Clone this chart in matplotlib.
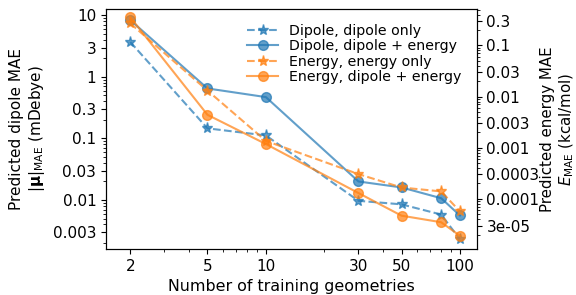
import matplotlib
matplotlib.use("Agg")
import matplotlib.pyplot as plt
from matplotlib.ticker import FixedLocator, FuncFormatter, NullFormatter, LogLocator

n_train = [2, 5, 10, 30, 50, 80, 100]

dipole_dipole_only = [3.7, 0.146, 0.112, 0.0097, 0.0085, 0.0058, 0.0023]
dipole_dipole_energy = [8.4, 0.65, 0.47, 0.020, 0.016, 0.0107, 0.0056]
energy_energy_only = [0.27, 0.0131, 0.00136, 0.000305, 0.000167, 0.00014, 5.7e-5]
energy_dipole_energy = [0.356, 0.0044, 0.00118, 0.00013, 4.7e-5, 3.5e-5, 1.9e-5]

xticks = [2, 5, 10, 30, 50, 100]
left_ticks = [10, 3, 1, 0.3, 0.1, 0.03, 0.01, 0.003]
right_ticks = [0.3, 0.1, 0.03, 0.01, 0.003, 0.001, 0.0003, 0.0001, 3e-5]

blue = "tab:blue"
orange = "tab:orange"
alpha = 0.7

fig = plt.figure(figsize=(5.76, 2.95), dpi=100)
ax = fig.add_axes([0.184, 0.156, 0.6436, 0.8135])
ax2 = ax.twinx()

l1, = ax.plot(n_train, dipole_dipole_only, ls="--", marker="*", ms=8, color=blue,
              alpha=alpha, label="Dipole, dipole only")
l2, = ax.plot(n_train, dipole_dipole_energy, ls="-", marker="o", ms=7, color=blue,
              alpha=alpha, label="Dipole, dipole + energy")
l3, = ax2.plot(n_train, energy_energy_only, ls="--", marker="*", ms=8, color=orange,
               alpha=alpha, label="Energy, energy only")
l4, = ax2.plot(n_train, energy_dipole_energy, ls="-", marker="o", ms=7, color=orange,
               alpha=alpha, label="Energy, dipole + energy")

ax.set_xscale("log")
ax.set_yscale("log")
ax2.set_yscale("log")
ax.set_xlim(1.5, 122)
ax.set_ylim(0.0016, 12.7)
ax2.set_ylim(1.05e-5, 0.514)

fmt = FuncFormatter(lambda v, p: "%g" % v)
ax.xaxis.set_major_locator(FixedLocator(xticks))
ax.xaxis.set_major_formatter(fmt)
ax.xaxis.set_minor_formatter(NullFormatter())
ax.yaxis.set_major_locator(FixedLocator(left_ticks))
ax.yaxis.set_major_formatter(fmt)
ax.yaxis.set_minor_locator(LogLocator(base=10, subs=range(2, 10), numticks=20))
ax.yaxis.set_minor_formatter(NullFormatter())
ax2.yaxis.set_major_locator(FixedLocator(right_ticks))
ax2.yaxis.set_major_formatter(fmt)
ax2.yaxis.set_minor_locator(LogLocator(base=10, subs=range(2, 10), numticks=20))
ax2.yaxis.set_minor_formatter(NullFormatter())

ax.set_xlabel("Number of training geometries", fontsize=11.4)
ax.set_ylabel("Predicted dipole MAE\n$|\\mathbf{\\mu}|_\\mathrm{MAE}$ (mDebye)", fontsize=11)
ax2.set_ylabel("Predicted energy MAE\n$E_\\mathrm{MAE}$ (kcal/mol)", fontsize=10.8, labelpad=0)
ax.tick_params(labelsize=11)
ax2.tick_params(labelsize=11)

ax2.legend(handles=[l1, l2, l3, l4], loc="upper right", frameon=False,
           fontsize=10.2, handlelength=2.2, labelspacing=0.1, borderaxespad=0.65)

fig.savefig("out.png", dpi=100)
